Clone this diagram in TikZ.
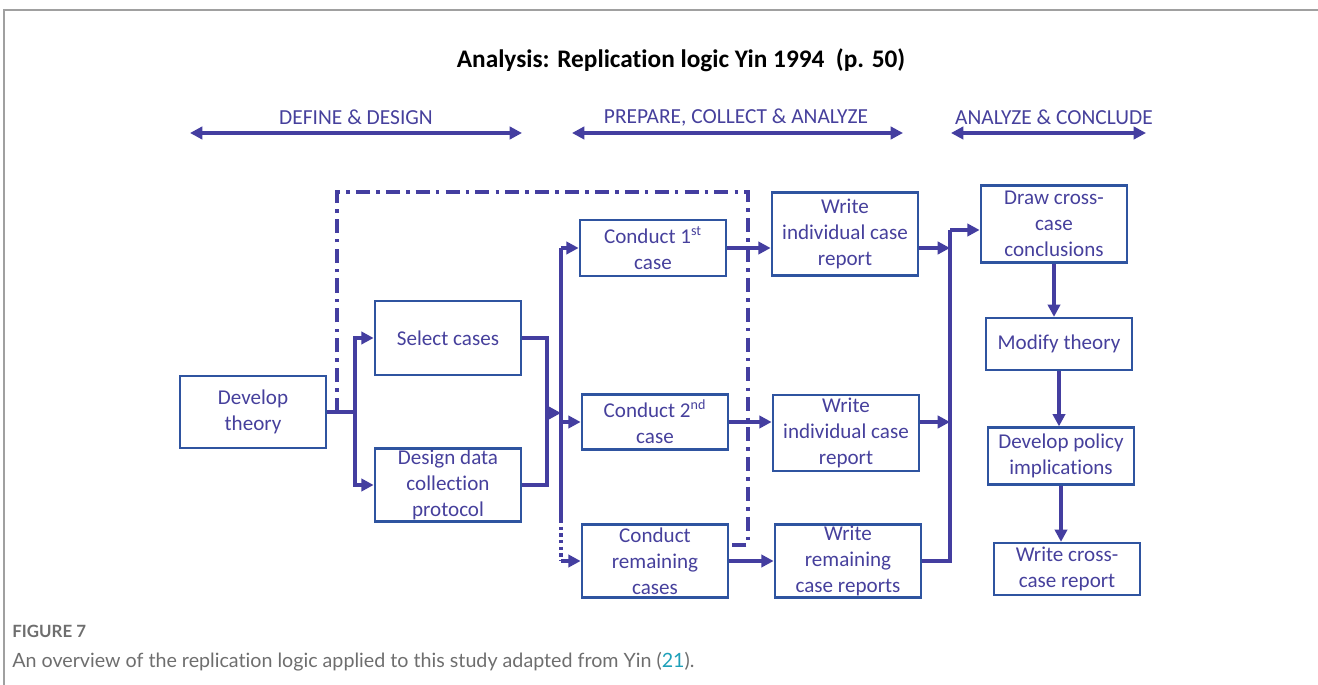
\documentclass[tikz,border=0pt]{standalone}
\usepackage{fontspec}
\setmainfont{Carlito}[Ligatures=NoCommon]
\newfontfamily\capfont{Lato}[Ligatures=NoCommon]
\usetikzlibrary{arrows.meta}
\definecolor{linkblue}{RGB}{68,62,160}
\definecolor{boxblue}{RGB}{47,84,160}
\definecolor{textblue}{RGB}{70,64,156}
\definecolor{framegray}{RGB}{160,160,160}
\definecolor{capgray}{RGB}{110,110,110}
\definecolor{citeteal}{RGB}{30,160,185}

\begin{document}
\begin{tikzpicture}[x=0.02cm,y=-0.02cm]
            \tikzstyle{task} = [draw=boxblue, line width=1.3pt, text=textblue, align=center, inner sep=0pt, minimum width=2.93cm, font=\fontsize{12}{14.8}\selectfont]
            \tikzstyle{link} = [draw=linkblue, line width=2.2pt]
            \tikzstyle{flow} = [link, -{Triangle[length=7pt,width=7pt]}]
            \tikzstyle{span} = [link, line width=2pt, {Triangle[length=7pt,width=7pt]}-{Triangle[length=7pt,width=7pt]}]
            \tikzstyle{phase} = [text=textblue, font=\fontsize{12.2}{14}\selectfont]
            \tikzstyle{feedback} = [link, dash pattern=on 8pt off 3.5pt on 2pt off 3.5pt]
            \useasboundingbox (0,0) rectangle (1318,685);
            \draw[framegray, line width=0.9pt] (4,685) -- (4,10) -- (1318,10);
            \node[font=\bfseries\fontsize{14.4}{18}\selectfont] (title) at (681,60) {Analysis: Replication logic Yin 1994\ \ (p. 50)};
            % phases
            \node[phase] (define) at (356,117) {DEFINE \& DESIGN};
            \node[phase] (prepare) at (736,118) {PREPARE, COLLECT \& ANALYZE};
            \node[phase] (conclude) at (1054,117) {ANALYZE \& CONCLUDE};
            \coordinate (defineL) at (190,133);
            \coordinate (defineR) at (522,133);
            \coordinate (prepareL) at (572,133);
            \coordinate (prepareR) at (903,133);
            \coordinate (concludeL) at (951,133);
            \coordinate (concludeR) at (1146,133);
            \draw[span] (defineL) -- (defineR);
            \draw[span] (prepareL) -- (prepareR);
            \draw[span] (concludeL) -- (concludeR);
            % boxes
            \node[task, minimum height=1.44cm] (theory) at (253,412) {Develop\\theory};
            \node[task, minimum height=1.48cm] (select) at (448,338) {Select cases};
            \node[task, minimum height=1.46cm] (design) at (448,485) {Design data\\collection\\protocol};
            \node[task, minimum height=1.12cm] (case1) at (653,248) {Conduct 1\textsuperscript{st}\\case};
            \node[task, minimum height=1.10cm] (case2) at (655,422) {Conduct 2\textsuperscript{nd}\\case};
            \node[task, minimum height=1.46cm] (caseN) at (655,561) {Conduct\\remaining\\cases};
            \node[task, minimum height=1.66cm] (report1) at (845,234) {Write\\individual case\\report};
            \node[task, minimum height=1.52cm] (report2) at (846,433) {Write\\individual case\\report};
            \node[task, minimum height=1.46cm] (reportN) at (848,561) {Write\\remaining\\case reports};
            \node[task, minimum height=1.54cm] (cross) at (1054,224) {Draw cross-\\case\\conclusions};
            \node[task, minimum height=1.04cm] (modify) at (1059,344) {Modify theory};
            \node[task, minimum height=1.14cm] (policy) at (1061,456) {Develop policy\\implications};
            \node[task, minimum height=1.04cm] (final) at (1067,569) {Write cross-\\case report};
            % design stage
            \coordinate (fork) at (355,412);
            \coordinate (merge) at (547,413);
            \coordinate (bus) at (561,413);
            \coordinate (busTop) at (561,248);
            \coordinate (busMid) at (561,422);
            \coordinate (busEnd) at (561,520);
            \coordinate (busFoot) at (561,561);
            \draw[link] (theory.east) -- (fork);
            \draw[flow] (fork) |- (select.west);
            \draw[flow] (fork) |- (design.west);
            \draw[link] (select.east) -| (merge);
            \draw[link] (design.east) -| (merge);
            \draw[flow] (merge) -- (bus);
            \draw[link] (busTop) -- (busEnd);
            \draw[link, line width=1.8pt, dash pattern=on 1.8pt off 2pt] (busEnd) -- (busFoot);
            \draw[flow] (busTop) -- (case1.west);
            \draw[flow] (busMid) -- (case2.west);
            \draw[flow] (busFoot) -- (caseN.west);
            % loop back
            \coordinate (loopA) at (337,412);
            \coordinate (loopTR) at (748,192);
            \coordinate (loopEnd) at (748,545);
            \draw[feedback] (loopA) |- (loopTR) -- (loopEnd) -- (caseN.east |- loopEnd);
            % reports
            \draw[flow] (case1.east) -- (report1.west |- case1.east);
            \draw[flow] (case2.east) -- (report2.west |- case2.east);
            \draw[flow] (caseN.east) -- (reportN.west);
            \coordinate (join) at (950,230);
            \draw[flow] (report1.east |- case1.east) -- (join |- case1.east);
            \draw[flow] (report2.east |- case2.east) -- (join |- case2.east);
            \draw[link] (reportN.east) -| (join);
            \draw[flow] (join) -- (cross.west |- join);
            \draw[flow] (cross.south) -- (cross.south |- modify.north);
            \draw[flow] (modify.south) -- (modify.south |- policy.north);
            \draw[flow] (policy.south) -- (policy.south |- final.north);
            % caption
            \node[anchor=base west, inner sep=0pt, text=capgray, font=\capfont\bfseries\fontsize{9.6}{12}\selectfont] (figno) at (12,637) {FIGURE 7};
            \node[anchor=base west, inner sep=0pt, text=capgray, font=\capfont\fontsize{11.2}{14}\selectfont] (caption) at (12,667) {An overview of the replication logic applied to this study adapted from Yin (\textcolor{citeteal}{21}).};
        \end{tikzpicture}
\end{document}
